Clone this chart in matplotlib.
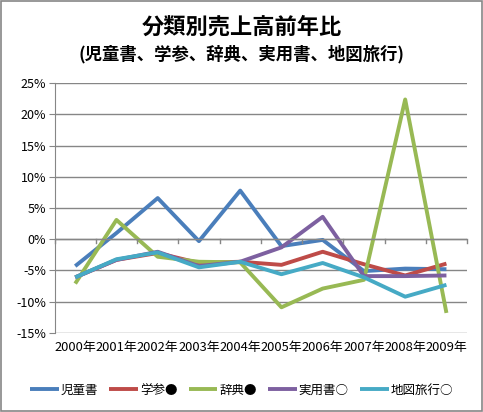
import matplotlib
matplotlib.use('Agg')
import matplotlib.pyplot as plt
from matplotlib.patches import Rectangle
from matplotlib.ticker import FuncFormatter

plt.rcParams['font.family'] = ['Noto Sans CJK JP', 'DejaVu Sans']

# 年度
years = ['2000年', '2001年', '2002年', '2003年', '2004年',
         '2005年', '2006年', '2007年', '2008年', '2009年']

# 前年比 (%)
jidousho = [-4.3, 1.0, 6.6, -0.3, 7.8, -1.1, -0.1, -5.1, -4.7, -4.8]
gakusan = [-6.1, -3.3, -2.2, -3.8, -3.6, -4.1, -2.0, -4.0, -5.8, -3.9]
jiten = [-7.1, 3.1, -2.8, -3.6, -3.7, -10.9, -7.9, -6.5, 22.4, -11.8]
jitsuyou = [-6.1, -3.3, -2.0, -4.3, -3.6, -1.3, 3.6, -5.9, -5.9, -5.8]
chizu = [-6.1, -3.2, -2.1, -4.5, -3.6, -5.6, -3.8, -6.1, -9.2, -7.3]

series = [
    ('児童書', jidousho, '#4A7EBB'),
    ('学参●', gakusan, '#BE4B48'),
    ('辞典●', jiten, '#98B954'),
    ('実用書○', jitsuyou, '#7D60A0'),
    ('地図旅行○', chizu, '#46AAC5'),
]

fig = plt.figure(figsize=(4.83, 4.12), dpi=100)
ax = fig.add_axes([0.113, 0.192, 0.854, 0.606])

x = list(range(len(years)))
for nombre, valores, color in series:
    ax.plot(x, valores, color=color, lw=2.8, label=nombre, solid_capstyle='butt')

ax.set_xlim(-0.5, len(years) - 0.5)
ax.set_ylim(-15, 25)
ax.set_yticks(range(-15, 26, 5))
ax.yaxis.set_major_formatter(FuncFormatter(lambda v, p: f'{int(v)}%'))
ax.yaxis.grid(True, color='#868686', lw=1)
ax.set_axisbelow(True)

for s in ['top', 'right', 'bottom']:
    ax.spines[s].set_visible(False)
ax.spines['left'].set_color('#868686')
ax.tick_params(axis='y', length=4, color='#868686', labelsize=9, pad=2)

# eje x en 0 con marcas entre categorias
ax.axhline(0, color='#868686', lw=1)
for b in [i - 0.5 for i in range(len(years) + 1)]:
    ax.plot([b, b], [0, -0.6], color='#868686', lw=1, clip_on=False)
ax.set_xticks(x)
ax.set_xticklabels(years, fontsize=9.3)
ax.tick_params(axis='x', length=0, pad=6)

fig.text(0.5, 0.935, '分類別売上高前年比', ha='center', va='center',
         fontsize=16, fontweight='bold')
fig.text(0.5, 0.868, '(児童書、学参、辞典、実用書、地図旅行)', ha='center',
         va='center', fontsize=12.5, fontweight='bold')

fig.legend(loc='center', bbox_to_anchor=(0.5, 0.053), ncol=5, frameon=False,
           fontsize=9, handlelength=2.3, columnspacing=0.9, handletextpad=0.15)

fig.patches.append(Rectangle((0.002, 0.002), 0.996, 0.996, transform=fig.transFigure,
                             fill=False, edgecolor='#868686', lw=1.2))

fig.savefig('out.png', dpi=100)
